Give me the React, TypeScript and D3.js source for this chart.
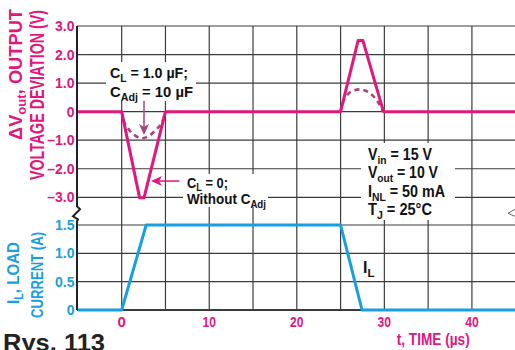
import React from 'react';
import * as d3 from 'd3';

const W = 515, H = 350;

// ticks
const timeTicks = [0, 10, 20, 30, 40];
const timeTickLabels = ['0', '10', '20', '30', '40'];
const timeGrid = [0, 5, 10, 15, 20, 25, 30, 35, 40, 45];
const voltTicks = [3, 2, 1, 0, -1, -2, -3];
const voltLabels = ['3.0', '2.0', '1.0', '0', '–1.0', '–2.0', '–3.0'];
const currTicks = [1.5, 1.0, 0.5, 0];
const currLabels = ['1.5', '1.0', '0.5', '0'];

// series: C_L = 0 (solid)
const solidT = [-5, 0, 2.05, 2.55, 5, 25, 27.0, 27.55, 29.9, 45];
const solidV = [0, 0, -3.02, -3.02, 0, 0, 2.49, 2.49, 0, 0];
// series: C_L = 1.0 uF, C_Adj = 10 uF (dashed) - negative lobe
const dashNegT = [0, 0.25, 0.8, 1.5, 2.3, 3.1, 3.9, 4.6, 5];
const dashNegV = [0, -0.35, -0.62, -0.83, -0.93, -0.85, -0.64, -0.38, 0];
// dashed positive lobe
const dashPosT = [25, 25.35, 26.1, 27.2, 28.3, 29.2, 29.85];
const dashPosV = [0, 0.4, 0.68, 0.78, 0.66, 0.37, 0];
// load current
const currT = [-5, 0, 2.8, 25, 27.45, 45];
const currV = [0, 0, 1.5, 1.5, 0, 0];

const MAG = '#e2167c';
const DASH = '#a4457f';
const BLUE = '#16a0e0';
const GRID = '#3c3c3c';
const FONT = '"Liberation Sans", Arial, sans-serif';

// main text, subscript, rest of text
function Sub({ main, s, rest, fs, k = 0.28 }: { main: string; s: string; rest: string; fs: number; k?: number }) {
  const d = fs * k;
  return (
    <>
      {main}
      <tspan dy={d} fontSize={fs * 0.72}>{s}</tspan>
      <tspan dy={-d}>{rest}</tspan>
    </>
  );
}

export default function App() {
  const x = d3.scaleLinear().domain([-5, 45]).range([77.9, 515.7]);
  const yV = d3.scaleLinear().domain([-3, 3]).range([197.3, 26]);
  const yI = d3.scaleLinear().domain([0, 1.5]).range([310, 225]);

  const lineV = d3.line<[number, number]>().x(d => x(d[0])).y(d => yV(d[1]));
  const lineVs = d3.line<[number, number]>().x(d => x(d[0])).y(d => yV(d[1])).curve(d3.curveCatmullRom.alpha(0.5));
  const lineI = d3.line<[number, number]>().x(d => x(d[0])).y(d => yI(d[1]));

  const zip = (a: number[], b: number[]) => a.map((v, i) => [v, b[i]] as [number, number]);

  const left = 77;
  const top = yV(3);
  const bottom = yI(0);

  // arrows (in data coords)
  const a1x = x(2.55), a1y0 = yV(0.38), a1y1 = yV(-0.82);
  const a2x0 = x(6.6), a2x1 = x(3.35), a2y = yV(-2.43);

  const LA = 'spacingAndGlyphs';

  return (
    <svg width={W} height={H} style={{ position: 'absolute', left: 0, top: 0, background: '#fff' }}
      fontFamily={FONT} fontWeight="bold">
      <rect width={W} height={H} fill="#fff" />
      {/* vertical grid */}
      {timeGrid.map(t => (
        <line key={'vg' + t} x1={x(t)} x2={x(t)} y1={top} y2={bottom} stroke={GRID} strokeWidth={1.2} />
      ))}
      {/* horizontal grid */}
      {voltTicks.map(v => (
        <line key={'hv' + v} x1={left} x2={W} y1={yV(v)} y2={yV(v)} stroke={GRID} strokeWidth={1.2} />
      ))}
      {currTicks.map(v => (
        <line key={'hi' + v} x1={left} x2={W} y1={yI(v)} y2={yI(v)} stroke={GRID} strokeWidth={v === 0 ? 2 : 1.2} />
      ))}
      {/* left axis with break */}
      <path d={`M${left},${top} L${left},${yV(-3) + 9} L${left + 3},${yV(-3) + 12} L${left - 4},${yV(-3) + 19} L${left + 1},${yV(-3) + 22} L${left},${yV(-3) + 24} L${left},${bottom}`}
        fill="none" stroke="#222" strokeWidth={2} />
      <path d={`M515,${yV(-3) + 12} L508,${yV(-3) + 16} L515,${yV(-3) + 19}`} fill="none" stroke="#666" strokeWidth={1} />

      {/* white masks under annotation text */}
      <rect x={106} y={62} width={90} height={39} fill="#fff" />
      <rect x={183} y={174} width={85} height={33} fill="#fff" />
      <rect x={361} y={143} width={94} height={77} fill="#fff" />

      {/* y tick labels */}
      {voltTicks.map((v, i) => (
        <text key={'vt' + v} x={74.5} y={yV(v) + 5} textAnchor="end" fontSize={14} fill={MAG}>{voltLabels[i]}</text>
      ))}
      {currTicks.map((v, i) => (
        <text key={'it' + v} x={74.5} y={yI(v) + 5} textAnchor="end" fontSize={14} fill={BLUE}>{currLabels[i]}</text>
      ))}
      {/* x tick labels */}
      {timeTicks.map((t, i) => (
        <text key={'xt' + t} x={x(t)} y={327} textAnchor="middle" fontSize={15} fill={MAG}
          textLength={timeTickLabels[i].length > 1 ? 13.5 : undefined} lengthAdjust={LA}>{timeTickLabels[i]}</text>
      ))}
      <text x={396.7} y={345} fontSize={16} fill={MAG} textLength={73} lengthAdjust={LA}>t, TIME (µs)</text>

      {/* y axis titles */}
      <text transform={`translate(22,140) rotate(-90)`} fontSize={19} fill={MAG} textLength={131} lengthAdjust={LA}>
        <Sub main="ΔV" s="out" rest=", OUTPUT" fs={19} k={0.2} />
      </text>
      <text transform={`translate(44,180) rotate(-90)`} fontSize={20} fill={MAG} textLength={170} lengthAdjust={LA}>
        VOLTAGE  DEVIATION (V)
      </text>
      <text transform={`translate(19,304) rotate(-90)`} fontSize={17} fill={BLUE} textLength={62} lengthAdjust={LA}>
        <Sub main="I" s="L" rest=", LOAD" fs={17} k={0.22} />
      </text>
      <text transform={`translate(43,318) rotate(-90)`} fontSize={17} fill={BLUE} textLength={86} lengthAdjust={LA}>
        CURRENT (A)
      </text>

      {/* annotations */}
      <text x={110} y={77.5} fontSize={15} fill="#111" textLength={78} lengthAdjust={LA}><Sub main="C" s="L" rest=" = 1.0 µF;" fs={15} /></text>
      <text x={110} y={97} fontSize={15} fill="#111" textLength={83} lengthAdjust={LA}><Sub main="C" s="Adj" rest=" = 10 µF" fs={15} /></text>
      <text x={187} y={188} fontSize={15} fill="#111" textLength={41} lengthAdjust={LA}><Sub main="C" s="L" rest=" = 0;" fs={15} k={0.22} /></text>
      <text x={187} y={204} fontSize={15} fill="#111" textLength={79} lengthAdjust={LA}><Sub main="Without C" s="Adj" rest="" fs={15} /></text>

      <text x={368} y={159.5} fontSize={16} fill="#111" textLength={64} lengthAdjust={LA}><Sub main="V" s="in" rest=" = 15 V" fs={16} /></text>
      <text x={368} y={178} fontSize={16} fill="#111" textLength={70} lengthAdjust={LA}><Sub main="V" s="out" rest=" = 10 V" fs={16} /></text>
      <text x={368} y={196.5} fontSize={16} fill="#111" textLength={77} lengthAdjust={LA}><Sub main="I" s="NL" rest=" = 50 mA" fs={16} /></text>
      <text x={368} y={215} fontSize={16} fill="#111" textLength={64} lengthAdjust={LA}><Sub main="T" s="J" rest=" = 25°C" fs={16} /></text>
      <text x={363} y={273} fontSize={16} fill="#111"><Sub main="I" s="L" rest="" fs={16} /></text>

      <text x={3} y={351} fontSize={24} fill="#222" textLength={102} lengthAdjust={LA}>Rys. 113</text>

      {/* curves */}
      <path d={lineI(zip(currT, currV)) || ''} fill="none" stroke={BLUE} strokeWidth={3} strokeLinejoin="round" />
      <path d={lineVs(zip(dashNegT, dashNegV)) || ''} fill="none" stroke={DASH} strokeWidth={2.6} strokeDasharray="5 4" />
      <path d={lineVs(zip(dashPosT, dashPosV)) || ''} fill="none" stroke={DASH} strokeWidth={2.6} strokeDasharray="5 4" />
      <path d={lineV(zip(solidT, solidV)) || ''} fill="none" stroke={MAG} strokeWidth={3} strokeLinejoin="round" />

      {/* arrows */}
      <line x1={a1x} x2={a1x} y1={a1y0} y2={a1y1 - 6} stroke={DASH} strokeWidth={1.5} />
      <path d={`M${a1x},${a1y1} L${a1x - 5},${a1y1 - 11} L${a1x},${a1y1 - 8} L${a1x + 5},${a1y1 - 11} Z`} fill={DASH} />
      <line x1={a2x0} x2={a2x1 + 6} y1={a2y} y2={a2y} stroke={MAG} strokeWidth={1.5} />
      <path d={`M${a2x1},${a2y} L${a2x1 + 11},${a2y - 5} L${a2x1 + 8},${a2y} L${a2x1 + 11},${a2y + 5} Z`} fill={MAG} />
    </svg>
  );
}
